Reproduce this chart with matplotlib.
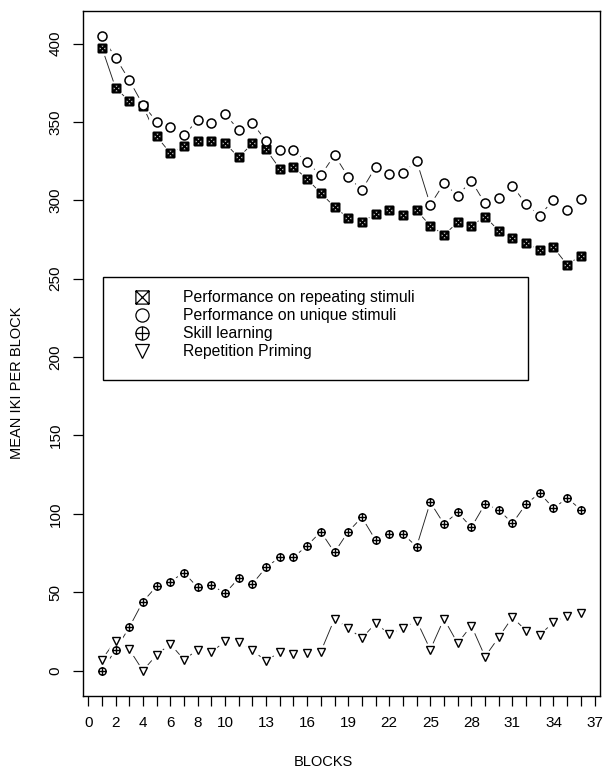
import numpy as np
import matplotlib
matplotlib.use("Agg")
import matplotlib.pyplot as plt
from matplotlib.path import Path
from matplotlib.patches import Rectangle

plt.rcParams['font.family'] = ['Liberation Sans', 'DejaVu Sans']

# Mean inter-keystroke interval (ms) per block
blocks = np.arange(1, 37)
repeating = [397.5, 371.8, 363.3, 360.3, 340.8, 330.2, 335.0, 338.0, 338.0, 336.5,
             327.4, 336.3, 332.5, 320.2, 321.4, 313.6, 304.6, 295.9, 288.7, 286.2,
             291.3, 294.0, 290.4, 293.6, 283.8, 278.0, 285.9, 283.8, 289.7, 280.6,
             276.0, 272.5, 268.5, 270.0, 258.9, 264.7]
unique = [404.6, 391.1, 376.7, 361.0, 350.3, 347.1, 341.6, 351.1, 349.2, 355.0,
          345.0, 349.2, 338.0, 332.0, 332.0, 324.4, 315.9, 328.9, 315.0, 306.6,
          321.2, 316.7, 317.2, 325.3, 297.2, 310.8, 303.0, 312.5, 298.0, 301.5,
          309.3, 297.6, 290.2, 300.4, 293.8, 300.8]
skill = [0.0, 13.2, 27.6, 44.0, 53.8, 56.8, 62.5, 53.1, 54.7, 49.3,
         58.9, 55.3, 65.9, 72.3, 72.3, 79.7, 88.6, 75.4, 88.6, 97.8,
         83.3, 87.2, 87.2, 79.1, 107.4, 93.5, 101.0, 91.4, 106.3, 102.7,
         93.9, 106.3, 113.3, 103.5, 110.1, 102.7]
priming = [7.0, 19.1, 13.6, 0.0, 10.0, 17.0, 7.0, 13.2, 11.7, 18.7,
           18.0, 13.2, 5.9, 12.1, 10.6, 11.3, 12.1, 33.0, 27.2, 20.6,
           30.2, 23.4, 27.0, 31.9, 13.4, 33.0, 17.4, 28.7, 8.9, 21.2,
           34.0, 25.5, 22.8, 30.8, 35.1, 36.8]

xtick_labels = [0, 2, 4, 6, 8, 10, 13, 16, 19, 22, 25, 28, 31, 34, 37]
ytick_values = [0, 50, 100, 150, 200, 250, 300, 350, 400]
series_labels = ["Performance on repeating stimuli",
                 "Performance on unique stimuli",
                 "Skill learning",
                 "Repetition Priming"]

# Custom marker glyphs: boxed cross and circled plus
M, L, C = Path.MOVETO, Path.LINETO, Path.CLOSEPOLY
box_x = Path([(-1, -1), (1, -1), (1, 1), (-1, 1), (-1, -1),
              (-1, -1), (1, 1), (-1, 1), (1, -1)],
             [M, L, L, L, C, M, L, M, L])
circ_plus = Path.make_compound_path(
    Path.unit_circle(),
    Path([(-1, 0), (1, 0), (0, -1), (0, 1)], [M, L, M, L]))

styles = [
    dict(marker=box_x, ms=5.6, mew=1.6),
    dict(marker='o', ms=6.5, mew=1.1),
    dict(marker=circ_plus, ms=5.3, mew=1.0),
    dict(marker='v', ms=5.5, mew=1.0),
]
data = [repeating, unique, skill, priming]

fig = plt.figure(figsize=(6.09, 7.70), dpi=100)
ax = fig.add_axes([0.1358, 0.0961, 0.8494, 0.8896])

for y, st in zip(data, styles):
    # connecting segments, broken around each point
    ax.plot(blocks, y, color='#222222', lw=0.65, zorder=1)
    ax.plot(blocks, y, ls='none', marker='o', ms=st['ms'] * 2.0,
            mfc='white', mec='none', zorder=2)
    ax.plot(blocks, y, ls='none', marker=st['marker'], ms=st['ms'],
            mfc='white', mec='black', mew=st['mew'], zorder=3)

ax.set_xlim(-0.4, 37.4)
ax.set_ylim(-16.2, 420.8)
ax.set_xticks(np.arange(0, 38))
ax.set_xticklabels([str(v) if v in xtick_labels else '' for v in range(38)])
ax.set_yticks(ytick_values)
ax.set_yticklabels([str(v) for v in ytick_values])
ax.tick_params(axis='both', direction='out', length=7, width=0.9,
               labelsize=11, pad=7.5)
for lab in ax.get_yticklabels():
    lab.set_rotation(90)
    lab.set_va('center')
    lab.set_ha('right')
for sp in ax.spines.values():
    sp.set_linewidth(1.0)

ax.set_xlabel("BLOCKS", fontsize=10.5, va='center')
ax.set_ylabel("MEAN IKI PER BLOCK", fontsize=10.5, va='center')
ax.xaxis.set_label_coords(0.466, -0.0964)
ax.yaxis.set_label_coords(-0.127, 0.457)

# Key box with symbol + description rows
box_left, box_right = (103 - 82.7) / 517.3, (527.7 - 82.7) / 517.3
box_top, box_bottom = (696 - 277) / 685, (696 - 380) / 685
ax.add_patch(Rectangle((box_left, box_bottom), box_right - box_left,
                       box_top - box_bottom, transform=ax.transAxes,
                       fill=False, lw=1.0, ec='black', zorder=4))
row_px = [297, 315, 333, 351]
sym_x = (142 - 82.7) / 517.3
txt_x = (183 - 82.7) / 517.3
for label, st, ypx in zip(series_labels, styles, row_px):
    yy = (696 - ypx) / 685
    ax.plot([sym_x], [yy], transform=ax.transAxes, ls='none',
            marker=st['marker'], ms=9.5, mfc='white', mec='black', mew=0.9,
            clip_on=False, zorder=5)
    ax.text(txt_x, yy, label, transform=ax.transAxes, fontsize=11.3,
            va='center', ha='left', zorder=5)

fig.savefig("out.png", dpi=100)
